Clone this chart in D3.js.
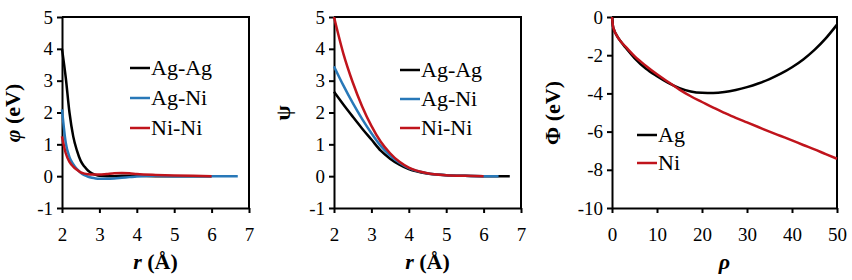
<!DOCTYPE html>
<html>
<head>
<meta charset="utf-8">
<script src="https://cdn.jsdelivr.net/npm/d3@7"></script>
</head>
<body style="margin:0">
<svg id="chart" width="852" height="280"></svg>
<script>
// panel 1: pair potential phi(r)
var phiR     = [2.0, 2.1, 2.2, 2.3, 2.4, 2.5, 2.6, 2.7, 2.8, 2.9, 3.0, 3.2, 3.4, 3.6, 3.8, 4.0, 4.5, 5.0, 5.5, 6.0, 6.7];
var phiAgAg  = [4.0, 3.1, 2.0, 1.25, 0.8, 0.48, 0.3, 0.17, 0.09, 0.04, 0.01, 0.0, 0.0, 0.01, 0.01, 0.01, 0.0, 0.0, 0.0, 0.0, null];
var phiAgNi  = [2.1, 1.05, 0.6, 0.38, 0.22, 0.11, 0.03, -0.02, -0.05, -0.07, -0.08, -0.08, -0.07, -0.05, -0.03, -0.01, 0.01, 0.0, 0.0, 0.0, 0.0];
var phiNiNi  = [1.25, 0.72, 0.45, 0.3, 0.2, 0.12, 0.08, 0.06, 0.05, 0.05, 0.05, 0.07, 0.09, 0.1, 0.09, 0.07, 0.04, 0.02, 0.01, 0.0, null];

// panel 2: density function psi(r)
var psiR     = [2.0, 2.25, 2.5, 2.75, 3.0, 3.25, 3.5, 3.75, 4.0, 4.5, 5.0, 5.5, 6.0, 6.4, 6.7];
var psiAgAg  = [2.65, 2.25, 1.87, 1.5, 1.15, 0.8, 0.55, 0.36, 0.22, 0.08, 0.03, 0.01, 0.0, 0.0, 0.0];
var psiAgNi  = [3.45, 2.85, 2.3, 1.8, 1.35, 0.95, 0.65, 0.42, 0.25, 0.09, 0.03, 0.01, 0.0, 0.0, null];
var psiNiNi  = [5.0, 3.85, 2.95, 2.2, 1.58, 1.08, 0.72, 0.45, 0.27, 0.09, 0.03, 0.01, 0.0, null, null];

// panel 3: embedding function Phi(rho)
var rho      = [0, 0.2, 0.5, 1, 2, 3, 5, 7.5, 10, 12.5, 15, 17.5, 20, 22.5, 25, 27.5, 30, 32.5, 35, 37.5, 40, 42.5, 45, 47.5, 50];
var embAg    = [0, -0.45, -0.7, -0.95, -1.3, -1.6, -2.15, -2.7, -3.1, -3.45, -3.72, -3.9, -3.97, -3.98, -3.93, -3.82, -3.67, -3.48, -3.25, -2.97, -2.63, -2.22, -1.72, -1.12, -0.4];
var embNi    = [0, -0.45, -0.7, -0.95, -1.3, -1.55, -2.05, -2.55, -3.0, -3.4, -3.8, -4.15, -4.45, -4.75, -5.02, -5.28, -5.52, -5.76, -6.0, -6.23, -6.46, -6.7, -6.93, -7.18, -7.42];

var rTicks    = [2, 3, 4, 5, 6, 7];
var potTicks  = [-1, 0, 1, 2, 3, 4, 5];
var rhoTicks  = [0, 10, 20, 30, 40, 50];
var embTicks  = [-10, -8, -6, -4, -2, 0];

var colors = {black: "#000000", blue: "#2878b8", red: "#c0141c"};
var serif = "Liberation Serif";

var svg = d3.select("#chart");

function panel(opt) {
    var x = d3.scaleLinear().domain(opt.xDomain).range([opt.left, opt.right]);
    var y = d3.scaleLinear().domain(opt.yDomain).range([208, 17]);
    var g = svg.append("g");
    var fmt = function(d) { return String(d); };

    var xAxis = g.append("g")
        .attr("transform", "translate(0,208)")
        .call(d3.axisBottom(x).tickValues(opt.xTicks).tickFormat(fmt)
            .tickSize(5).tickPadding(15).tickSizeOuter(0));
    var yAxis = g.append("g")
        .attr("transform", "translate(" + opt.left + ",0)")
        .call(d3.axisLeft(y).tickValues(opt.yTicks).tickFormat(fmt)
            .tickSize(5).tickPadding(4).tickSizeOuter(0));
    [xAxis, yAxis].forEach(function(a) {
        a.attr("font-family", null).attr("font-size", null);
        a.selectAll("path, line").attr("stroke", "#000").attr("stroke-width", 2);
        a.selectAll("text")
            .style("font-family", serif)
            .attr("font-size", 19)
            .attr("fill", "#000");
    });

    // top and right frame
    g.append("path")
        .attr("d", "M" + opt.left + ",17H" + opt.right + "V208")
        .attr("fill", "none").attr("stroke", "#000").attr("stroke-width", 2);

    opt.series.forEach(function(s) {
        var pts = opt.xs.map(function(v, i) { return [v, s.values[i]]; });
        var line = d3.line()
            .defined(function(d) { return d[1] !== null; })
            .x(function(d) { return x(d[0]); })
            .y(function(d) { return y(d[1]); })
            .curve(d3.curveMonotoneX);
        g.append("path").datum(pts)
            .attr("d", line)
            .attr("fill", "none")
            .attr("stroke", s.color)
            .attr("stroke-width", 2.5);
    });

    // legend
    opt.series.forEach(function(s, i) {
        var ly = opt.legendY[i];
        g.append("line")
            .attr("x1", opt.legendX).attr("x2", opt.legendX + 20)
            .attr("y1", ly).attr("y2", ly)
            .attr("stroke", s.color).attr("stroke-width", 2.5);
        g.append("text")
            .style("font-family", serif)
            .attr("x", opt.legendX + 21).attr("y", ly + 7)
            .attr("font-size", 22)
            .text(s.name);
    });

    // axis titles
    var xt = g.append("text")
        .style("font-family", serif)
        .attr("x", (opt.left + opt.right) / 2).attr("y", 269)
        .attr("text-anchor", "middle")
        .attr("font-size", 22).attr("font-weight", "bold");
    opt.xTitle.forEach(function(p) {
        xt.append("tspan").attr("font-style", p[1] ? "italic" : null).text(p[0]);
    });
    var yt = g.append("text")
        .style("font-family", serif)
        .attr("transform", "translate(" + (opt.yTitleX + 7) + ",113) rotate(-90)")
        .attr("text-anchor", "middle")
        .attr("font-size", 22).attr("font-weight", "bold");
    opt.yTitle.forEach(function(p) {
        yt.append("tspan").attr("font-style", p[1] ? "italic" : null).text(p[0]);
    });
}

panel({
    left: 62, right: 249, xDomain: [2, 7], yDomain: [-1, 5],
    xTicks: rTicks, yTicks: potTicks, xs: phiR,
    series: [
        {name: "Ag-Ag", values: phiAgAg, color: colors.black},
        {name: "Ag-Ni", values: phiAgNi, color: colors.blue},
        {name: "Ni-Ni", values: phiNiNi, color: colors.red}
    ],
    legendX: 130, legendY: [68, 98, 128],
    xTitle: [["r", true], [" (Å)", false]],
    yTitle: [["φ", true], [" (eV)", false]], yTitleX: 13
});

panel({
    left: 334, right: 521, xDomain: [2, 7], yDomain: [-1, 5],
    xTicks: rTicks, yTicks: potTicks, xs: psiR,
    series: [
        {name: "Ag-Ag", values: psiAgAg, color: colors.black},
        {name: "Ag-Ni", values: psiAgNi, color: colors.blue},
        {name: "Ni-Ni", values: psiNiNi, color: colors.red}
    ],
    legendX: 400, legendY: [70, 99, 128],
    xTitle: [["r", true], [" (Å)", false]],
    yTitle: [["ψ", false]], yTitleX: 283
});

panel({
    left: 612, right: 837, xDomain: [0, 50], yDomain: [-10, 0],
    xTicks: rhoTicks, yTicks: embTicks, xs: rho,
    series: [
        {name: "Ag", values: embAg, color: colors.black},
        {name: "Ni", values: embNi, color: colors.red}
    ],
    legendX: 637, legendY: [135, 163],
    xTitle: [["ρ", true]],
    yTitle: [["Φ", false], [" (eV)", false]], yTitleX: 553
});
</script>
</body>
</html>
